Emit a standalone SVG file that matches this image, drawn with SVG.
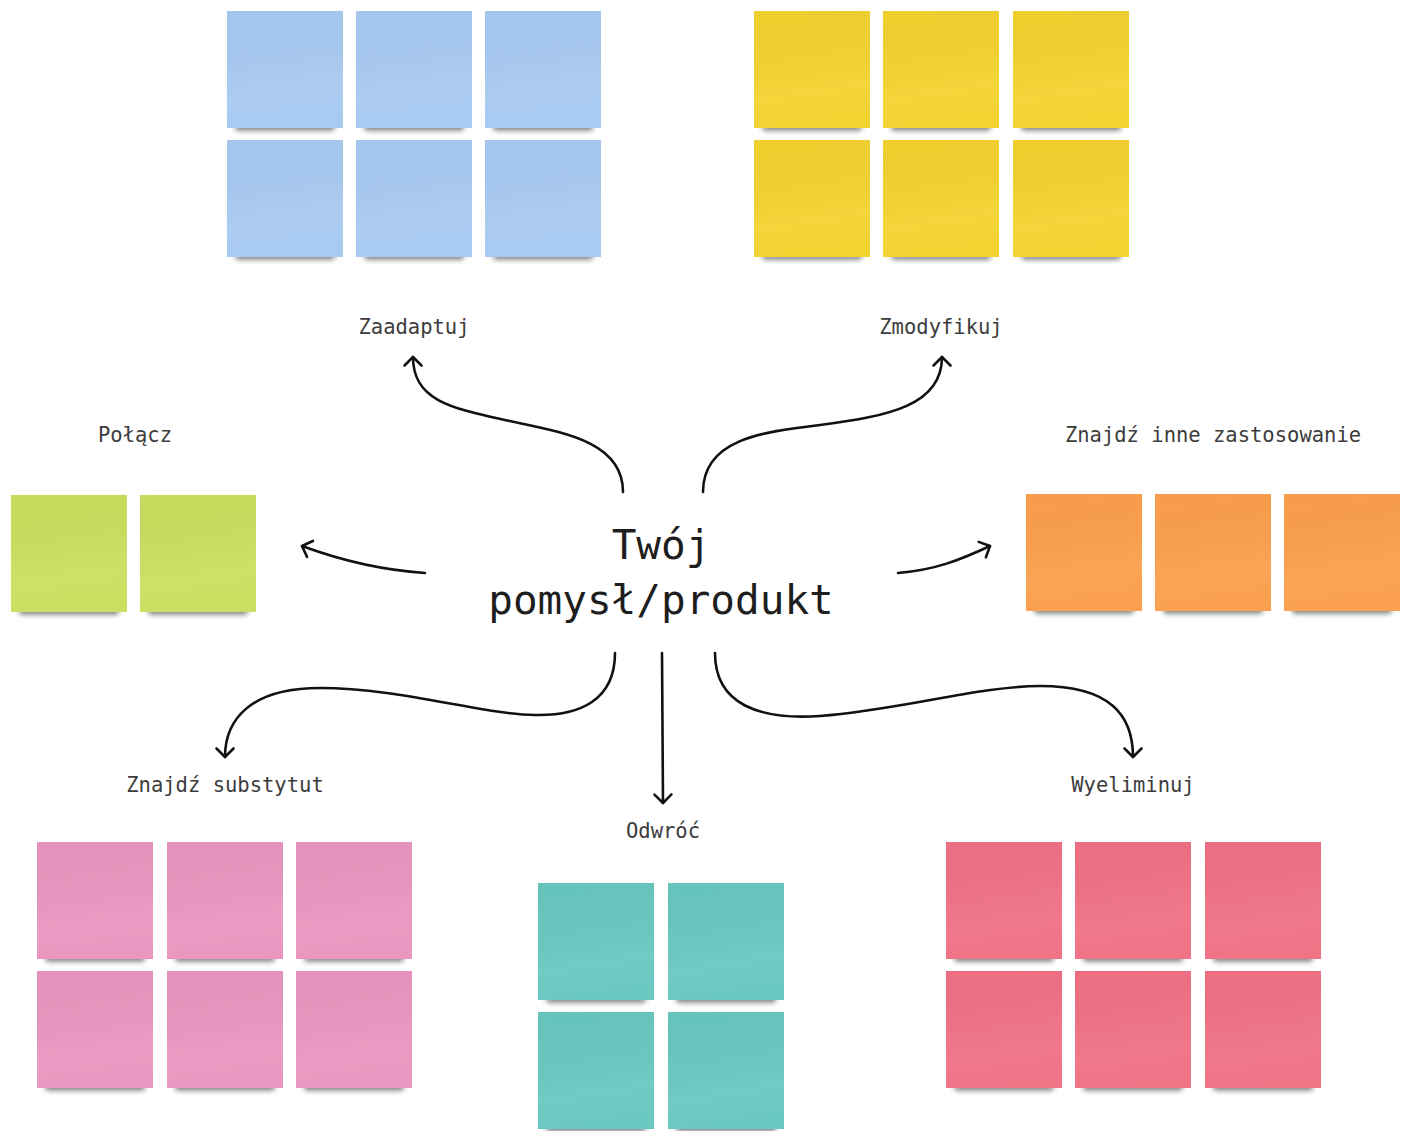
<svg xmlns="http://www.w3.org/2000/svg" xmlns:xlink="http://www.w3.org/1999/xlink" width="1412" height="1131" viewBox="0 0 1412 1131">
  <style>
    .label { font-family: "DejaVu Sans Mono", "Liberation Mono", monospace; font-size: 20.5px; fill: #3c3c3c; text-anchor: middle; }
    .title { font-family: "DejaVu Sans Mono", "Liberation Mono", monospace; font-size: 41px; fill: #1e1e1e; text-anchor: middle; }
    .link { fill: none; stroke: #111; stroke-width: 2.6; stroke-linecap: round; marker-end: url(#chevron); }
  </style>
  <defs>
    <filter id="soft" x="-20%" y="-200%" width="140%" height="500%">
      <feGaussianBlur stdDeviation="2.6"/>
    </filter>
    <linearGradient id="sheen" x1="0" y1="0" x2="0.15" y2="1">
      <stop offset="0" stop-color="#000" stop-opacity="0.015"/>
      <stop offset="0.75" stop-color="#fff" stop-opacity="0.06"/>
      <stop offset="1" stop-color="#fff" stop-opacity="0.02"/>
    </linearGradient>
    <marker id="chevron" markerUnits="userSpaceOnUse" viewBox="-12 -12 16 24" markerWidth="16" markerHeight="24" refX="0" refY="0" orient="auto">
      <path d="M-8.5,-8.5 L0,0 L-8.5,8.5" fill="none" stroke="#111" stroke-width="2.6" stroke-linecap="round" stroke-linejoin="round"/>
    </marker>
    <!-- one sticky note: drop shadow, paper (fill inherited from <use>), soft sheen -->
    <g id="note">
      <rect x="8" y="110" width="100" height="10" rx="4" fill="#000" opacity="0.45" filter="url(#soft)"/>
      <rect width="116" height="117"/>
      <rect width="116" height="117" fill="url(#sheen)"/>
    </g>
  </defs>

  <rect width="1412" height="1131" fill="#fff"/>

  <g id="adapt">
    <use xlink:href="#note" x="227" y="11" fill="#a7c9f1"/>
    <use xlink:href="#note" x="356" y="11" fill="#a7c9f1"/>
    <use xlink:href="#note" x="485" y="11" fill="#a7c9f1"/>
    <use xlink:href="#note" x="227" y="140" fill="#a7c9f1"/>
    <use xlink:href="#note" x="356" y="140" fill="#a7c9f1"/>
    <use xlink:href="#note" x="485" y="140" fill="#a7c9f1"/>
    <text class="label" x="414" y="334">Zaadaptuj</text>
  </g>

  <g id="modify">
    <use xlink:href="#note" x="754" y="11" fill="#f3d22e"/>
    <use xlink:href="#note" x="883" y="11" fill="#f3d22e"/>
    <use xlink:href="#note" x="1013" y="11" fill="#f3d22e"/>
    <use xlink:href="#note" x="754" y="140" fill="#f3d22e"/>
    <use xlink:href="#note" x="883" y="140" fill="#f3d22e"/>
    <use xlink:href="#note" x="1013" y="140" fill="#f3d22e"/>
    <text class="label" x="941" y="334">Zmodyfikuj</text>
  </g>

  <g id="combine">
    <use xlink:href="#note" x="11" y="495" fill="#c9df5d"/>
    <use xlink:href="#note" x="140" y="495" fill="#c9df5d"/>
    <text class="label" x="135" y="442">Połącz</text>
  </g>

  <g id="repurpose">
    <use xlink:href="#note" x="1026" y="494" fill="#fb9f4b"/>
    <use xlink:href="#note" x="1155" y="494" fill="#fb9f4b"/>
    <use xlink:href="#note" x="1284" y="494" fill="#fb9f4b"/>
    <text class="label" x="1213" y="442">Znajdź inne zastosowanie</text>
  </g>

  <g id="substitute">
    <use xlink:href="#note" x="37" y="842" fill="#e995bf"/>
    <use xlink:href="#note" x="167" y="842" fill="#e995bf"/>
    <use xlink:href="#note" x="296" y="842" fill="#e995bf"/>
    <use xlink:href="#note" x="37" y="971" fill="#e995bf"/>
    <use xlink:href="#note" x="167" y="971" fill="#e995bf"/>
    <use xlink:href="#note" x="296" y="971" fill="#e995bf"/>
    <text class="label" x="225" y="792">Znajdź substytut</text>
  </g>

  <g id="reverse">
    <use xlink:href="#note" x="538" y="883" fill="#68c7c0"/>
    <use xlink:href="#note" x="668" y="883" fill="#68c7c0"/>
    <use xlink:href="#note" x="538" y="1012" fill="#68c7c0"/>
    <use xlink:href="#note" x="668" y="1012" fill="#68c7c0"/>
    <text class="label" x="663" y="838">Odwróć</text>
  </g>

  <g id="eliminate">
    <use xlink:href="#note" x="946" y="842" fill="#f07084"/>
    <use xlink:href="#note" x="1075" y="842" fill="#f07084"/>
    <use xlink:href="#note" x="1205" y="842" fill="#f07084"/>
    <use xlink:href="#note" x="946" y="971" fill="#f07084"/>
    <use xlink:href="#note" x="1075" y="971" fill="#f07084"/>
    <use xlink:href="#note" x="1205" y="971" fill="#f07084"/>
    <text class="label" x="1133" y="792">Wyeliminuj</text>
  </g>

  <g id="idea">
    <text class="title" x="661" y="559">Twój</text>
    <text class="title" x="661" y="614">pomysł/produkt</text>
  </g>

  <g id="connectors">
    <path class="link" d="M623,492 C623,440 560,432 505,420 C450,408 413,400 413,357"/>
    <path class="link" d="M703,492 C703,440 760,432 820,425 C890,416 942,405 942,357"/>
    <path class="link" d="M425,573 C380,570 340,560 302,546"/>
    <path class="link" d="M898,573 C935,570 960,560 990,546"/>
    <path class="link" d="M615,653 C615,700 580,716 535,715 C480,714 400,688 320,688 C250,688 225,720 225,757"/>
    <path class="link" d="M662,653 L663,803"/>
    <path class="link" d="M715,653 C715,705 760,720 820,716 C900,710 980,686 1040,686 C1110,686 1133,715 1133,757"/>
  </g>
</svg>
